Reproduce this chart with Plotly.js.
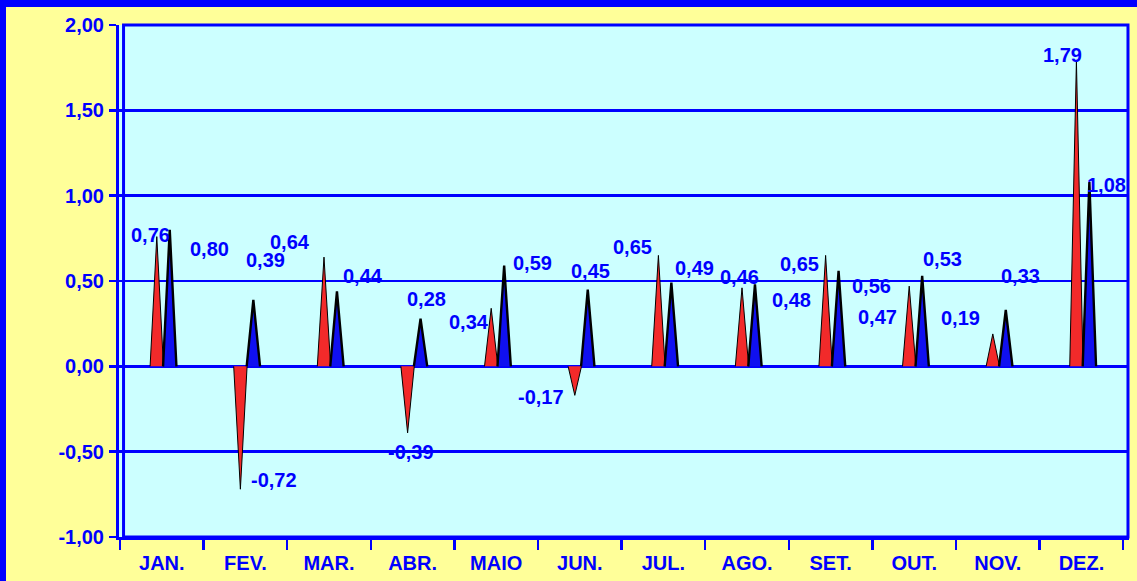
<!DOCTYPE html>
<html>
<head>
<meta charset="utf-8">
<script src="https://cdn.plot.ly/plotly-3.0.1.min.js"></script>
<style>
  html, body { margin: 0; padding: 0; overflow: hidden; background: #FFFF99; }
  #wrap { width: 1131px; height: 574px; border-top: 7px solid #0000FF; border-left: 6px solid #0000FF; background: #FFFF99; }
  #chart { width: 1131px; height: 574px; }
</style>
</head>
<body>
<div id="wrap"><div id="chart"></div></div>
<script>
// ---- data ----
const months = ['JAN.', 'FEV.', 'MAR.', 'ABR.', 'MAIO', 'JUN.', 'JUL.', 'AGO.', 'SET.', 'OUT.', 'NOV.', 'DEZ.'];
const seriesRed = [0.76, -0.72, 0.64, -0.39, 0.34, -0.17, 0.65, 0.46, 0.65, 0.47, 0.19, 1.79];
const seriesBlue = [0.80, 0.39, 0.44, 0.28, 0.59, 0.45, 0.49, 0.48, 0.56, 0.53, 0.33, 1.08];
const yTickValues = [-1, -0.5, 0, 0.5, 1, 1.5, 2];
const yTickLabels = ['-1,00', '-0,50', '0,00', '0,50', '1,00', '1,50', '2,00'];

// ---- layout / style helpers ----
const BLUE = '#0000FF';
const FONT = 'Liberation Sans, Arial, sans-serif';
const redOffset = -0.06, blueOffset = 0.095, halfWidth = 0.08;
// label pixel shifts [xshift, yshift]
const shiftRed = [[-6,2],[34,9],[-34,15],[3,-19],[-22,-14],[-34,-2],[-26,8],[-3,11],[-26,-9],[-32,-31],[-32,16],[-14,6]];
const shiftBlue = [[40,-19],[12,40],[26,15],[6,20],[28,3],[3,19],[23,15],[37,-16],[33,-15],[20,17],[15,34],[17,-3]];

function triangles(vals, off) {
  const xs = [], ys = [];
  vals.forEach((v, i) => {
    const c = i + off;
    xs.push(c - halfWidth, c, c + halfWidth, null);
    ys.push(0, v, 0, null);
  });
  return {xs, ys};
}
const fmt = v => v.toFixed(2).replace('.', ',');

const tr = triangles(seriesRed, redOffset);
const tb = triangles(seriesBlue, blueOffset);

const traces = [
  {x: tr.xs, y: tr.ys, type: 'scatter', mode: 'lines', fill: 'toself', fillcolor: '#F22A2A',
   line: {color: '#000000', width: 1}, hoverinfo: 'skip', showlegend: false},
  {x: tb.xs, y: tb.ys, type: 'scatter', mode: 'lines', fill: 'toself', fillcolor: '#1010F0',
   line: {color: '#000000', width: 2.4}, hoverinfo: 'skip', showlegend: false}
];

const annotations = [];
seriesRed.forEach((v, i) => annotations.push({
  x: i + redOffset, y: v, xref: 'x', yref: 'y', text: fmt(v), showarrow: false,
  xshift: shiftRed[i][0], yshift: shiftRed[i][1],
  font: {family: FONT, size: 20, color: BLUE, weight: 700}
}));
seriesBlue.forEach((v, i) => annotations.push({
  x: i + blueOffset, y: v, xref: 'x', yref: 'y', text: fmt(v), showarrow: false,
  xshift: shiftBlue[i][0], yshift: shiftBlue[i][1],
  font: {family: FONT, size: 20, color: BLUE, weight: 700}
}));

const layout = {
  width: 1131, height: 574,
  margin: {l: 113, r: 8, t: 18, b: 44},
  paper_bgcolor: '#FFFF99',
  plot_bgcolor: '#CCFFFF',
  showlegend: false,
  xaxis: {
    range: [-0.512, 11.569],
    tickmode: 'array',
    tickvals: months.map((m, i) => i),
    ticktext: months,
    ticks: '',
    showgrid: false,
    zeroline: false,
    showline: true, linecolor: BLUE, linewidth: 3,
    tickfont: {family: FONT, size: 20, color: BLUE, weight: 700},
    ticklabelstandoff: 6,
    minor: {tickmode: 'linear', tick0: -0.5, dtick: 1, ticks: 'outside', ticklen: 10, tickwidth: 2.5, tickcolor: BLUE, showgrid: false},
    fixedrange: true
  },
  yaxis: {
    range: [-1, 2],
    tickmode: 'array',
    tickvals: yTickValues,
    ticktext: yTickLabels,
    ticks: 'outside', ticklen: 7, tickwidth: 2.5, tickcolor: BLUE,
    showgrid: true, gridcolor: BLUE, gridwidth: 2.5,
    zeroline: true, zerolinecolor: BLUE, zerolinewidth: 2.5,
    showline: true, linecolor: BLUE, linewidth: 3,
    tickfont: {family: FONT, size: 20, color: BLUE, weight: 700},
    ticklabelstandoff: 1,
    fixedrange: true
  },
  shapes: [
    {type: 'rect', xref: 'paper', yref: 'paper', x0: 0.0045, x1: 0.999, y0: 0, y1: 1,
     line: {color: BLUE, width: 3}, fillcolor: 'rgba(0,0,0,0)', layer: 'above'}
  ],
  annotations: annotations
};

Plotly.newPlot('chart', traces, layout, {displayModeBar: false, staticPlot: true});
</script>
</body>
</html>
